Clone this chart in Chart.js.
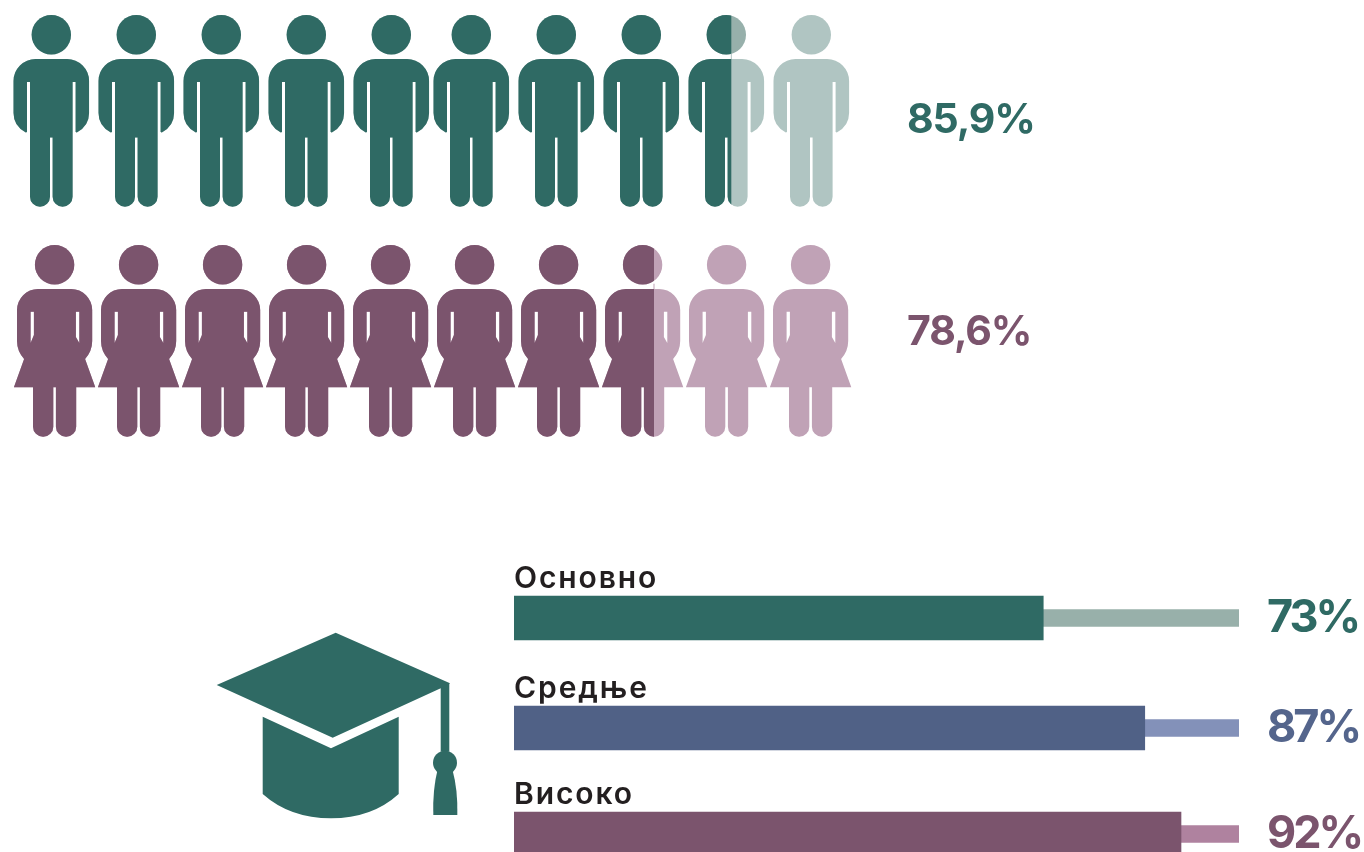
<!DOCTYPE html>
<html>
<head>
<meta charset="utf-8">
<title>Pictogram and education bars</title>
<script src="https://cdn.jsdelivr.net/npm/chart.js@4"></script>
<style>
  html, body { margin: 0; padding: 0; background: #fff; width: 1364px; height: 852px; overflow: hidden; }
  canvas, svg { position: absolute; display: block; }
  #menChart { left: 0; top: 0; }
  #womenChart { left: 0; top: 235px; }
  #rowChart0 { left: 514px; top: 558px; }
  #rowChart1 { left: 514px; top: 668px; }
  #rowChart2 { left: 514px; top: 774px; }
  #cap { left: 0; top: 0; }
</style>
</head>
<body>
<canvas id="menChart" width="1100" height="220"></canvas>
<canvas id="womenChart" width="1100" height="210"></canvas>
<svg id="cap" width="1364" height="852" viewBox="0 0 1364 852">
  <g fill="#2f6a64">
    <path d="M335.7 632.7 L216.7 685 L332.7 737.7 L440.7 688.3 L440.7 751.7 L449.3 751.7 L449.3 684 L450 683.3 Z"/>
    <path d="M262.7 716.7 L331 748.3 L398.7 716.7 L398.7 794 Q372 818.3 331 818.3 Q290 818.3 262.7 794 Z"/>
    <circle cx="445" cy="762.7" r="12"/>
    <path d="M437.5 770 Q432.5 790 433.3 815 L457.3 815 Q458 790 452.5 770 Z"/>
  </g>
</svg>
<canvas id="rowChart0" width="850" height="120"></canvas>
<canvas id="rowChart1" width="850" height="120"></canvas>
<canvas id="rowChart2" width="850" height="120"></canvas>

<script>
// values
const iconSlots = [0, 1, 2, 3, 4, 5, 6, 7, 8, 9];
const menShare = 85.9;
const womenShare = 78.6;
const menFill = [1, 1, 1, 1, 1, 1, 1, 1, 0.566, 0];
const womenFill = [1, 1, 1, 1, 1, 1, 1, 0.64, 0, 0];

const educationLevels = ['Основно', 'Средње', 'Високо'];
const educationValues = [73, 87, 92];
const educationTotal = [100, 100, 100];

const GREEN = '#2f6a64';
const GREEN_PALE = '#b0c5c2';
const GREEN_HEAD = '#97b0ab';
const PLUM = '#7b546d';
const PLUM_PALE = '#c0a2b6';
const BAR_DARK = ['#2f6a64', '#506186', '#7b546d'];
const BAR_LIGHT = ['#98b0aa', '#8391b9', '#af829f'];
const VALUE_TEXT = ['#2f6a64', '#54658c', '#7b546d'];
const INK = '#231f20';
const FONT = 'Inter, "Noto Sans", sans-serif';

function roundedLeg(p, outer, inner, bottom, r) {
  // leg end, going from one side to the other round the foot
  p.lineTo(outer, bottom - r);
  p.arcTo(outer, bottom, (outer + inner) / 2, bottom, r);
  p.arcTo(inner, bottom, inner, bottom - r, r);
}

function manPath(cx) {
  const p = new Path2D();
  p.moveTo(cx - 16, 59);
  p.lineTo(cx + 16, 59);
  p.arcTo(cx + 37.8, 59, cx + 37.8, 81, 22);
  p.lineTo(cx + 37.8, 113);
  p.quadraticCurveTo(cx + 37.8, 126, cx + 25.5, 132.5);
  p.lineTo(cx + 24.3, 132);
  p.lineTo(cx + 24.3, 82);
  p.lineTo(cx + 21.3, 82);
  roundedLeg(p, cx + 21.3, cx + 1.3, 206.7, 10);
  p.lineTo(cx + 1.3, 137.5);
  p.lineTo(cx - 1.3, 137.5);
  roundedLeg(p, cx - 1.3, cx - 21.3, 206.7, 10);
  p.lineTo(cx - 21.3, 82);
  p.lineTo(cx - 24.3, 82);
  p.lineTo(cx - 24.3, 132);
  p.lineTo(cx - 25.5, 132.5);
  p.quadraticCurveTo(cx - 37.8, 126, cx - 37.8, 113);
  p.lineTo(cx - 37.8, 81);
  p.arcTo(cx - 37.8, 59, cx - 16, 59, 22);
  p.closePath();
  return p;
}

function womanPath(cx) {
  const p = new Path2D();
  p.moveTo(cx - 17, 54);
  p.lineTo(cx + 17, 54);
  p.arcTo(cx + 37.6, 54, cx + 37.6, 75, 21);
  p.lineTo(cx + 37.6, 106);
  p.quadraticCurveTo(cx + 37.6, 116, cx + 30.5, 124);
  p.lineTo(cx + 40.7, 152.3);
  p.lineTo(cx + 21.6, 152.3);
  roundedLeg(p, cx + 21.6, cx + 1.3, 201.7, 10);
  p.lineTo(cx + 1.3, 152.3);
  p.lineTo(cx - 1.3, 152.3);
  roundedLeg(p, cx - 1.3, cx - 21.6, 201.7, 10);
  p.lineTo(cx - 21.6, 152.3);
  p.lineTo(cx - 40.7, 152.3);
  p.lineTo(cx - 30.5, 124);
  p.quadraticCurveTo(cx - 37.6, 116, cx - 37.6, 106);
  p.lineTo(cx - 37.6, 75);
  p.arcTo(cx - 37.6, 54, cx - 17, 54, 21);
  p.closePath();
  // slits between arm and body
  p.moveTo(cx - 24, 76.7);
  p.lineTo(cx - 20.7, 76.7);
  p.lineTo(cx - 20.7, 100);
  p.lineTo(cx - 24, 108);
  p.closePath();
  p.moveTo(cx + 21.3, 76.7);
  p.lineTo(cx + 24.7, 76.7);
  p.lineTo(cx + 24.7, 108);
  p.lineTo(cx + 21.3, 102);
  p.closePath();
  return p;
}

// one person as a canvas, used as the pointStyle of a scatter point
function makeIcon(opts, fill) {
  const c = document.createElement('canvas');
  c.width = opts.width;
  c.height = opts.height;
  const ctx = c.getContext('2d');
  const body = opts.path(opts.cx);
  const head = new Path2D();
  head.arc(opts.cx, opts.headY, 19.7, 0, Math.PI * 2);

  ctx.fillStyle = opts.pale;
  ctx.fill(body, 'evenodd');
  ctx.fillStyle = fill > 0 && fill < 1 ? opts.headPale : opts.pale;
  ctx.fill(head);
  if (fill > 0) {
    const split = opts.cx - opts.span + fill * opts.span * 2;
    if (fill < 1) {
      // hairline left over in the gap under the chin
      ctx.fillStyle = opts.pale;
      ctx.fillRect(split - 0.5, opts.headY + 19, 1, 7);
    }
    ctx.save();
    ctx.beginPath();
    ctx.rect(0, 0, split, opts.height);
    ctx.clip();
    ctx.fillStyle = opts.dark;
    ctx.fill(body, 'evenodd');
    ctx.fill(head);
    ctx.restore();
  }
  return c;
}

function pictogram(id, slots, fills, share, opts) {
  const canvas = document.getElementById(id);
  const valueLabel = {
    id: 'valueLabel',
    afterDraw(chart) {
      const ctx = chart.ctx;
      ctx.save();
      ctx.font = opts.valueFont;
      ctx.letterSpacing = '-1.1px';
      ctx.fillStyle = opts.dark;
      ctx.textBaseline = 'alphabetic';
      ctx.fillText(String(share).replace('.', ',') + '%', opts.valueX, opts.valueY);
      ctx.restore();
    }
  };
  return new Chart(canvas, {
    type: 'scatter',
    data: {
      datasets: [{
        data: slots.map(s => ({ x: s > 4 ? s - opts.gapShift : s, y: 0 })),
        pointStyle: fills.map(f => makeIcon(opts, f)),
        pointRadius: 3,
        borderWidth: 0
      }]
    },
    options: {
      responsive: false,
      animation: false,
      events: [],
      layout: { padding: 0, autoPadding: false },
      plugins: { legend: { display: false }, tooltip: { enabled: false } },
      scales: {
        x: { type: 'linear', display: false, min: opts.xMin, max: opts.xMin + canvas.width / opts.step },
        y: { type: 'linear', display: false, min: -1, max: 1 }
      }
    },
    plugins: [valueLabel]
  });
}

function educationRow(i) {
  const rowLabels = {
    id: 'rowLabels',
    afterDatasetsDraw(chart) {
      const ctx = chart.ctx;
      const bar = chart.getDatasetMeta(0).data[0];
      const x0 = chart.scales.x.getPixelForValue(0);
      const x100 = chart.scales.x.getPixelForValue(100);
      ctx.save();
      ctx.textBaseline = 'alphabetic';
      ctx.font = '600 30px ' + FONT;
      ctx.letterSpacing = '1.9px';
      ctx.fillStyle = INK;
      ctx.fillText(educationLevels[i], x0, bar.y - 30);
      ctx.font = '700 45px ' + FONT;
      ctx.letterSpacing = '-3px';
      ctx.fillStyle = VALUE_TEXT[i];
      ctx.fillText(educationValues[i] + '%', x100 + 28, bar.y + 14);
      ctx.restore();
    }
  };
  return new Chart(document.getElementById('rowChart' + i), {
    type: 'bar',
    data: {
      labels: [educationLevels[i]],
      datasets: [
        { data: [educationValues[i]], backgroundColor: BAR_DARK[i], barThickness: 44, grouped: false, order: 1 },
        { data: [educationTotal[i]], backgroundColor: BAR_LIGHT[i], barThickness: 17, grouped: false, order: 2 }
      ]
    },
    options: {
      indexAxis: 'y',
      responsive: false,
      animation: false,
      events: [],
      layout: { padding: { right: 125 } },
      plugins: { legend: { display: false }, tooltip: { enabled: false } },
      scales: {
        x: { display: false, min: 0, max: 100 },
        y: { display: false }
      }
    },
    plugins: [rowLabels]
  });
}

document.addEventListener('DOMContentLoaded', function () {
  pictogram('menChart', iconSlots, menFill, menShare, {
    path: manPath, width: 90, height: 220, cx: 45.3, headY: 34.7, span: 38,
    dark: GREEN, pale: GREEN_PALE, headPale: GREEN_HEAD,
    xMin: -0.6, step: 85, gapShift: 5 / 85,
    valueFont: '700 41px ' + FONT, valueX: 907, valueY: 133
  });
  pictogram('womenChart', iconSlots, womenFill, womenShare, {
    path: womanPath, width: 90, height: 210, cx: 45.6, headY: 29.7, span: 40.7,
    dark: PLUM, pale: PLUM_PALE, headPale: PLUM_PALE,
    xMin: -54 / 84, step: 84, gapShift: 0,
    valueFont: '700 41px ' + FONT, valueX: 907, valueY: 110
  });
  educationLevels.forEach((name, i) => educationRow(i));
});
</script>
</body>
</html>
